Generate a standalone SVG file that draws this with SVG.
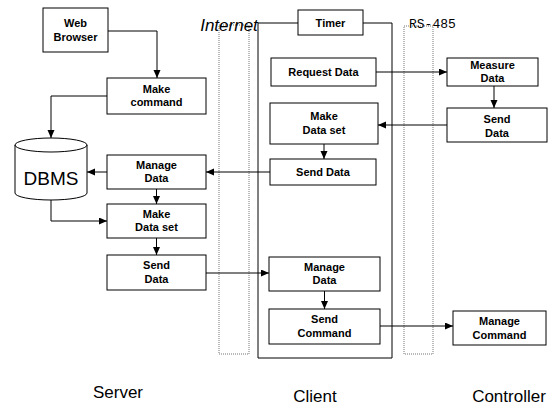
<svg xmlns="http://www.w3.org/2000/svg" width="549" height="407" viewBox="0 0 549 407">
<style>
.box{fill:#fff;stroke:#000;stroke-width:1}
.bt{font-family:"Liberation Sans",Arial,sans-serif;font-size:11px;font-weight:bold;text-anchor:middle;fill:#000}
.lbl{font-family:"Liberation Sans",Arial,sans-serif;font-size:17px;text-anchor:middle;fill:#000}
.dot{fill:none;stroke:#777;stroke-width:1;stroke-dasharray:1 1}
.con{fill:none;stroke:#000;stroke-width:1;marker-end:url(#ah)}
</style>
<defs>
<marker id="ah" markerUnits="userSpaceOnUse" markerWidth="9" markerHeight="8" refX="8" refY="3.5" orient="auto">
<path d="M0,0 L8,3.5 L0,7 z" fill="#000"/>
</marker>
</defs>
<rect width="549" height="407" fill="#fff"/>

<g id="internet">
<rect class="dot" x="219" y="25" width="30" height="329"/>
<text x="229" y="31" font-family="Liberation Sans,Arial,sans-serif" font-size="17" font-style="italic" text-anchor="middle">Internet</text>
</g>
<g id="rs485">
<rect class="dot" x="404" y="26" width="29" height="328"/>
<text x="409" y="28" font-family="Liberation Mono,monospace" font-size="13">RS-485</text>
</g>
<g id="client-frame">
<path d="M298,23 H258 V358 H392 V23 H363" fill="none" stroke="#000" stroke-width="1"/>
</g>

<g id="connectors">
<path class="con" d="M108,31 H157 V78"/>
<path class="con" d="M107,96 H51 V138"/>
<path class="con" d="M107,172 H87"/>
<path class="con" d="M51,200 V221 H107"/>
<path class="con" d="M156.5,189 V204"/>
<path class="con" d="M156.5,238 V255"/>
<path class="con" d="M206,273 H269"/>
<path class="con" d="M270,172 H206"/>
<path class="con" d="M376,72 H447"/>
<path class="con" d="M494,86 V108"/>
<path class="con" d="M447,125 H378"/>
<path class="con" d="M324,144 V159"/>
<path class="con" d="M324.5,291 V309"/>
<path class="con" d="M380,326 H453"/>
</g>

<g id="web-browser"><rect class="box" x="43" y="8" width="65" height="44"/><text class="bt" x="75.5" y="27">Web</text><text class="bt" x="75.5" y="41">Browser</text></g>
<g id="make-command"><rect class="box" x="107" y="78" width="99" height="36"/><text class="bt" x="156.5" y="93">Make</text><text class="bt" x="156.5" y="106">command</text></g>
<g id="dbms">
<path d="M15,145 A36,7 0 0 1 87,145 V193 A36,7 0 0 1 15,193 Z" fill="#fff" stroke="#000"/>
<path d="M15,145 A36,7 0 0 0 87,145" fill="none" stroke="#000"/>
<text x="51" y="185" font-family="Liberation Sans,Arial,sans-serif" font-size="19" text-anchor="middle">DBMS</text>
</g>
<g id="server-manage-data"><rect class="box" x="107" y="155" width="99" height="34"/><text class="bt" x="156.5" y="169">Manage</text><text class="bt" x="156.5" y="182">Data</text></g>
<g id="server-make-data-set"><rect class="box" x="107" y="204" width="99" height="34"/><text class="bt" x="156.5" y="218">Make</text><text class="bt" x="156.5" y="231">Data set</text></g>
<g id="server-send-data"><rect class="box" x="107" y="255" width="99" height="35"/><text class="bt" x="156.5" y="269">Send</text><text class="bt" x="156.5" y="283">Data</text></g>

<g id="timer"><rect class="box" x="298" y="10" width="65" height="25"/><text class="bt" x="330.5" y="27">Timer</text></g>
<g id="request-data"><rect class="box" x="271" y="58" width="105" height="28"/><text class="bt" x="323.5" y="76">Request Data</text></g>
<g id="client-make-data-set"><rect class="box" x="270" y="103" width="108" height="41"/><text class="bt" x="324" y="120">Make</text><text class="bt" x="324" y="134">Data set</text></g>
<g id="client-send-data"><rect class="box" x="270" y="159" width="106" height="26"/><text class="bt" x="323" y="176">Send Data</text></g>
<g id="client-manage-data"><rect class="box" x="269" y="257" width="111" height="34"/><text class="bt" x="324.5" y="271">Manage</text><text class="bt" x="324.5" y="284">Data</text></g>
<g id="send-command"><rect class="box" x="269" y="309" width="111" height="35"/><text class="bt" x="324.5" y="323">Send</text><text class="bt" x="324.5" y="337">Command</text></g>

<g id="measure-data"><rect class="box" x="447" y="58" width="91" height="28"/><text class="bt" x="492.5" y="69">Measure</text><text class="bt" x="492.5" y="82">Data</text></g>
<g id="controller-send-data"><rect class="box" x="447" y="108" width="100" height="34"/><text class="bt" x="497" y="123">Send</text><text class="bt" x="497" y="137">Data</text></g>
<g id="manage-command"><rect class="box" x="453" y="311" width="93" height="34"/><text class="bt" x="499.5" y="325">Manage</text><text class="bt" x="499.5" y="339">Command</text></g>

<g id="labels">
<text class="lbl" x="118" y="398">Server</text>
<text class="lbl" x="315" y="402">Client</text>
<text class="lbl" x="509" y="402">Controller</text>
</g>
</svg>
